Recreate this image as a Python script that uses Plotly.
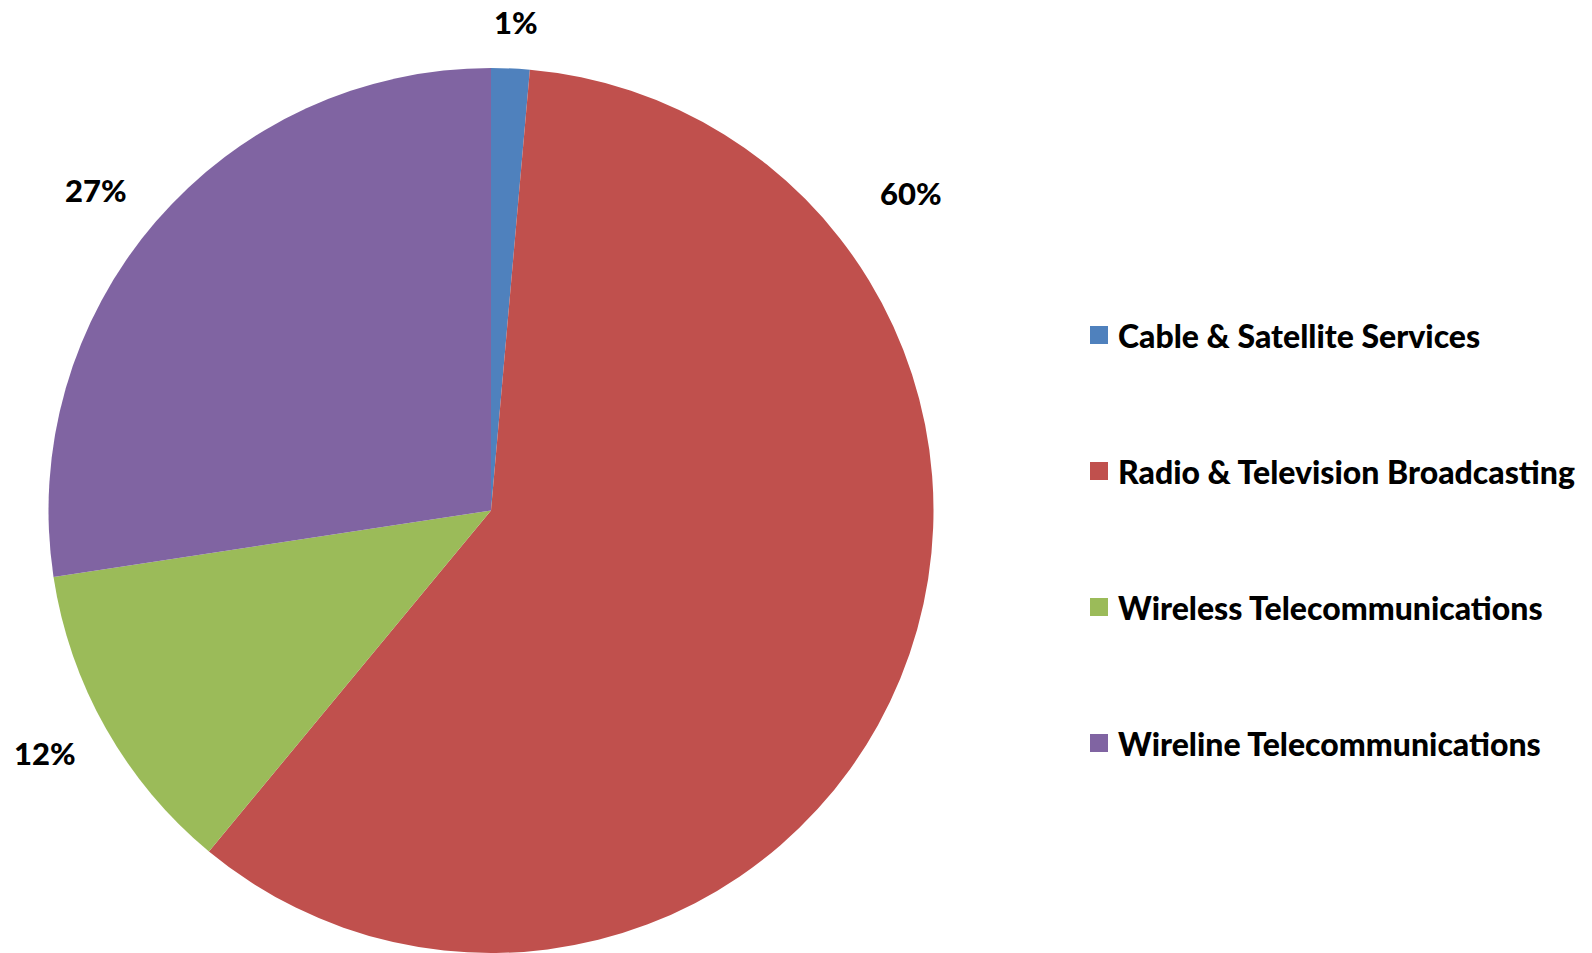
import plotly.graph_objects as go

# Share of the segment by industry
categories = [
    "Cable & Satellite Services",
    "Radio & Television Broadcasting",
    "Wireless Telecommunications",
    "Wireline Telecommunications",
]
shares = [1.4, 59.6, 11.6, 27.4]
colors = ["#4F81BD", "#C0504D", "#9BBB59", "#8064A2"]

# Data label placement (paper coords) beside each slice
label_xy = [(0.324, 0.977), (0.572, 0.797), (0.028, 0.210), (0.060, 0.801)]

W, H = 1592, 953
FONT = "Lato"

total = sum(shares)
pct_text = [f"{round(v / total * 100)}%" for v in shares]

fig = go.Figure(
    go.Pie(
        labels=categories,
        values=shares,
        sort=False,
        direction="clockwise",
        rotation=0,
        marker=dict(colors=colors, line=dict(width=0)),
        textinfo="none",
        hoverinfo="label+percent",
        showlegend=False,
        domain=dict(x=[48 / W, 934 / W], y=[0.0, 885 / H]),
    )
)

annotations = []
for txt, (x, y) in zip(pct_text, label_xy):
    annotations.append(
        dict(
            x=x, y=y, xref="paper", yref="paper",
            text=txt, showarrow=False,
            xanchor="center", yanchor="middle",
            font=dict(family=FONT, size=31, color="#000000", weight=900),
        )
    )

# Legend drawn as swatches with labels on the right
shapes = []
leg_x0 = 1090
leg_y = [335, 471, 607, 743]
sw = 18
for name, col, yc in zip(categories, colors, leg_y):
    shapes.append(
        dict(
            type="rect", xref="paper", yref="paper",
            x0=leg_x0 / W, x1=(leg_x0 + sw) / W,
            y0=1 - (yc + sw / 2) / H, y1=1 - (yc - sw / 2) / H,
            fillcolor=col, line=dict(width=0),
        )
    )
    annotations.append(
        dict(
            x=(leg_x0 + sw + 8) / W, y=1 - yc / H, xref="paper", yref="paper",
            text=name, showarrow=False,
            xanchor="left", yanchor="middle",
            font=dict(family=FONT, size=32, color="#000000", weight=900),
        )
    )

fig.update_layout(
    width=W, height=H,
    margin=dict(l=0, r=0, t=0, b=0),
    paper_bgcolor="#FFFFFF",
    plot_bgcolor="#FFFFFF",
    annotations=annotations,
    shapes=shapes,
)

fig.write_html("out.html")
